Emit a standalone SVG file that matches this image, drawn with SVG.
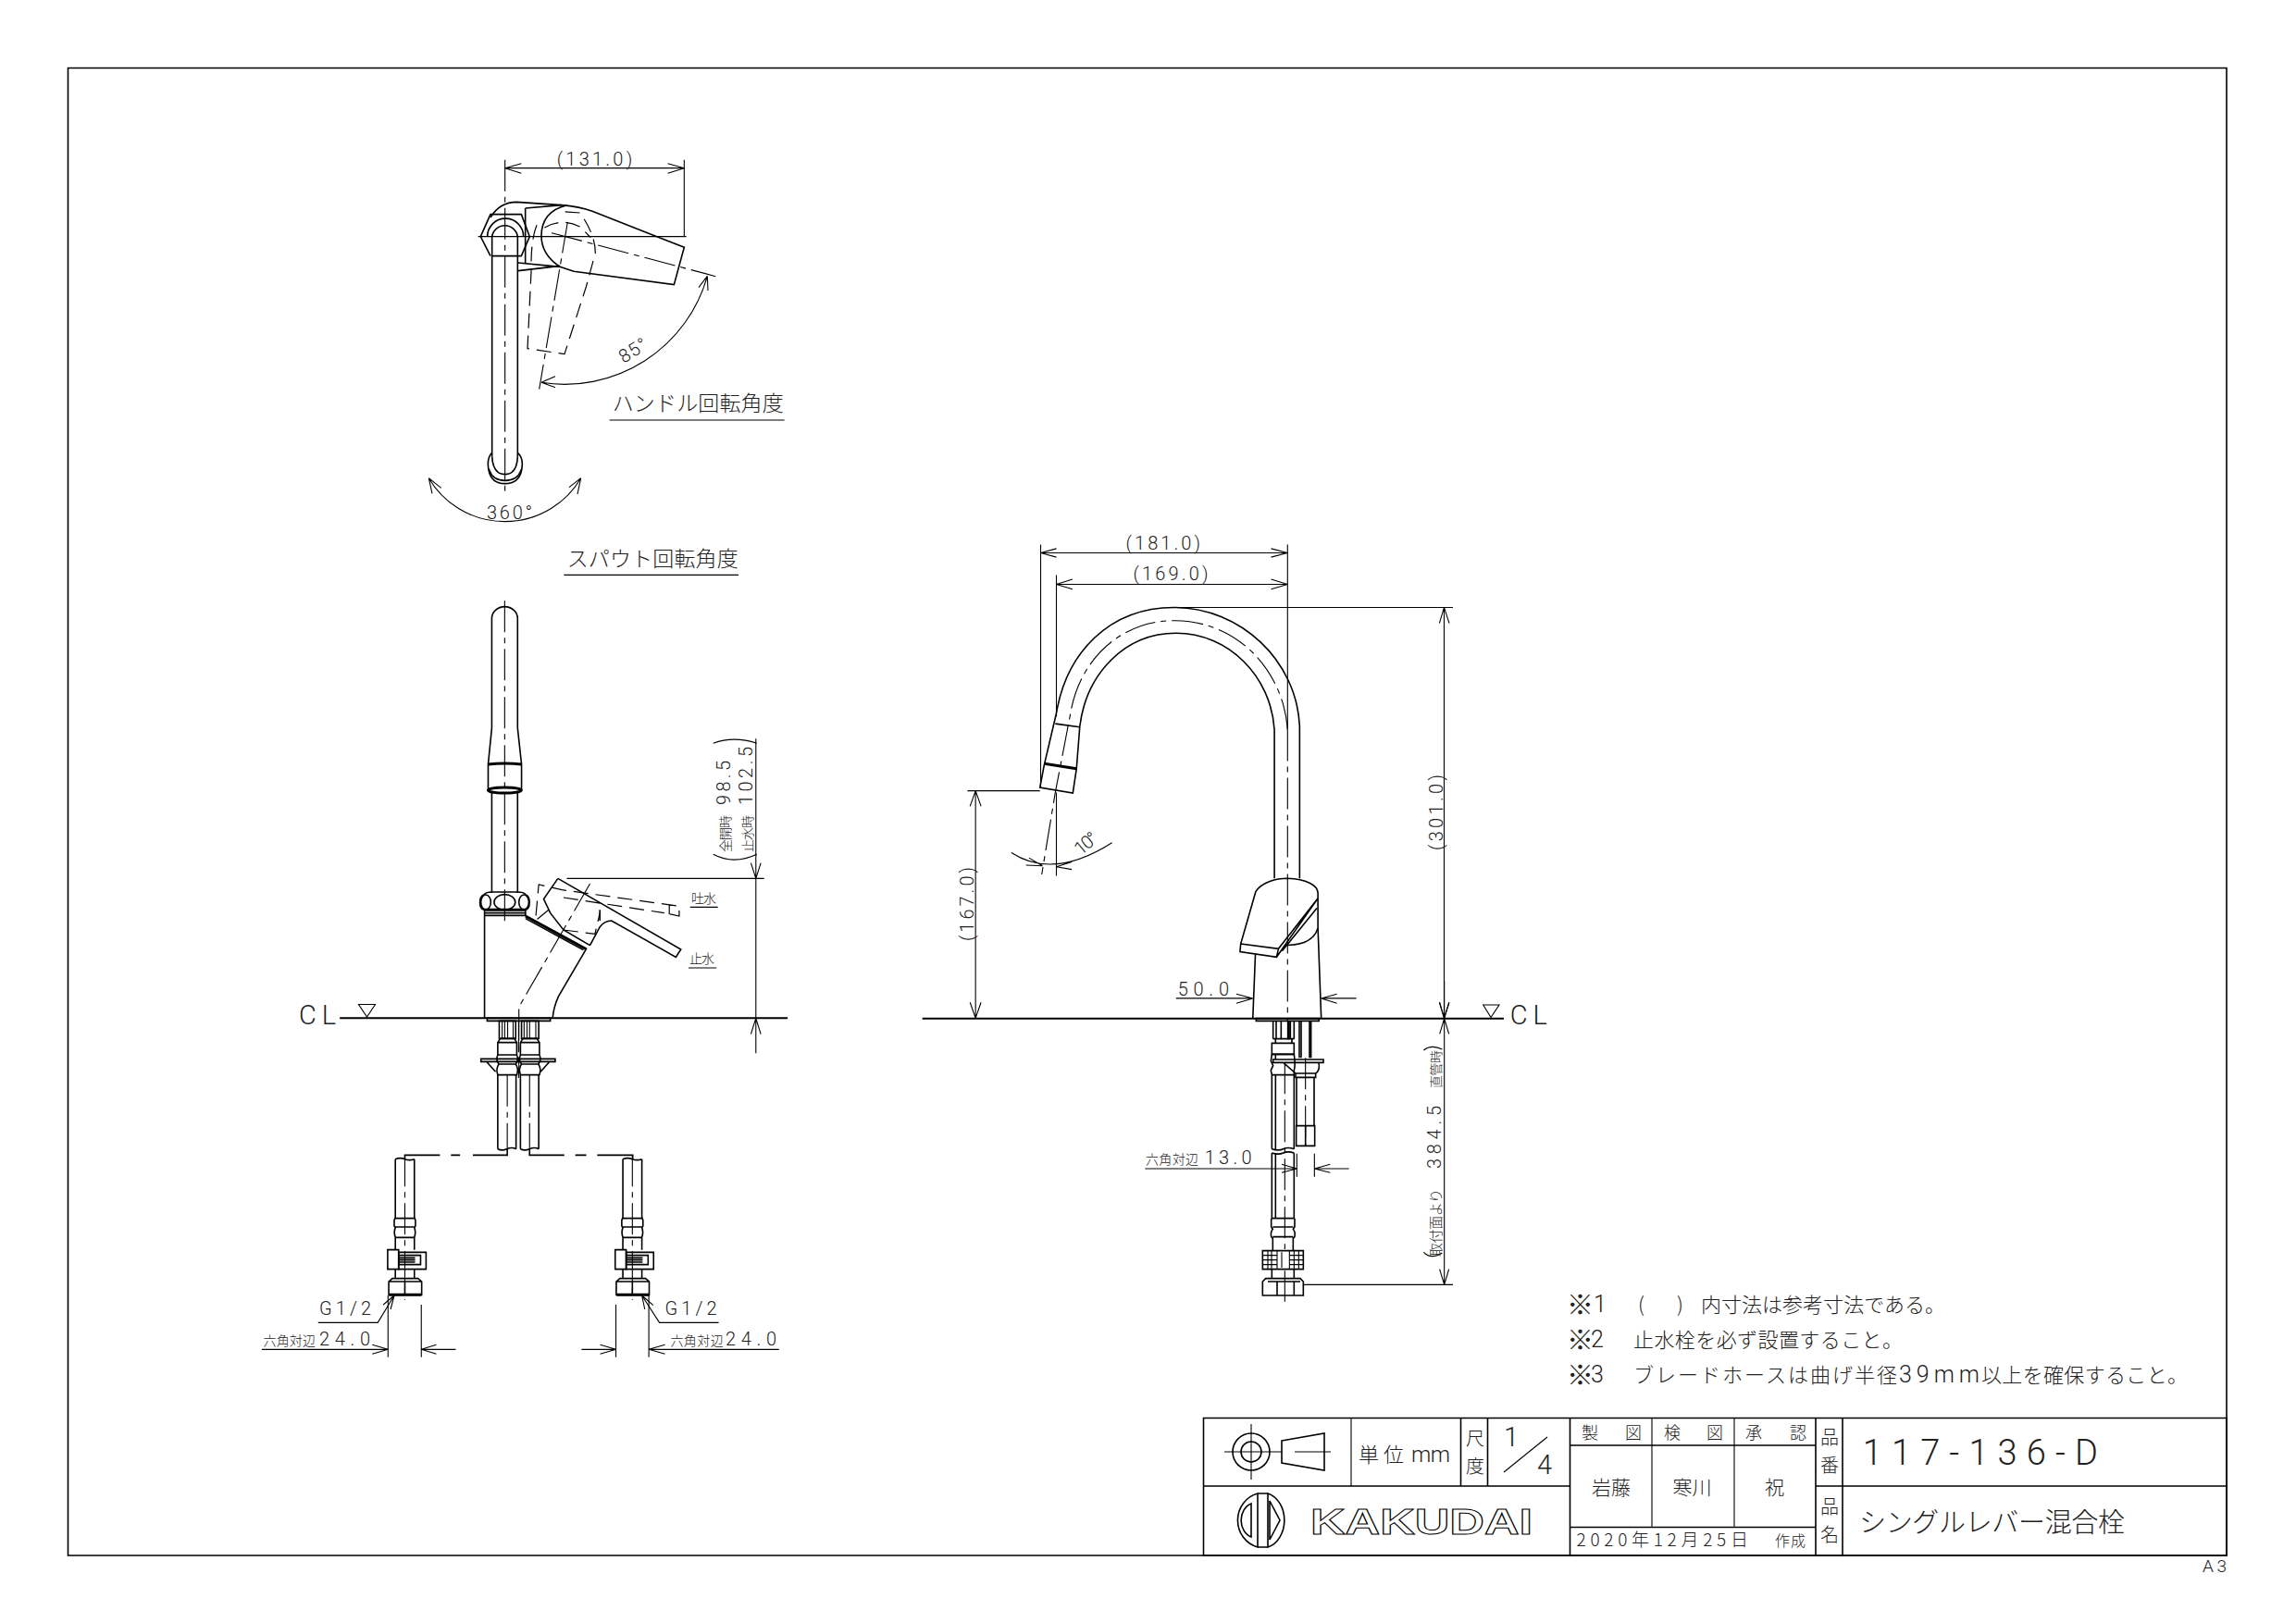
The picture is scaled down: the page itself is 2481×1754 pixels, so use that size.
<svg xmlns="http://www.w3.org/2000/svg" xmlns:xlink="http://www.w3.org/1999/xlink" width="2481" height="1754" viewBox="0 0 2481 1754">
<style>
path,line,rect,circle,ellipse,polyline,polygon{fill:none;stroke:#000;stroke-width:1.6;vector-effect:non-scaling-stroke}
.t{stroke-width:1.1}
.b{stroke-width:3}
.d{stroke-width:1.2;stroke-dasharray:16 8}
.c{stroke-width:1.1;stroke-dasharray:34 6 6 6}
text{font-family:Roboto,"Noto Sans CJK JP",sans-serif;font-weight:300;fill:#222;font-size:20px}
.j{font-family:"Noto Sans CJK JP",sans-serif;font-weight:300}
.n{font-size:22px}
.s{font-size:14px}
</style>
<defs>
<g id="supply">
<path d="M423,458V650M475,458V650M423,458Q436,452 449,458T475,458"/>
<path class="c" d="M449,445V915"/>
<path d="M423,650L420,655V675L423,680Q418,695 423,712V752M475,650L478,655V675L475,680Q480,695 475,712V752M420,650H478M421,678H477M422,712H476"/>
<rect x="402" y="752" width="30" height="63"/>
<rect x="432" y="760" width="75" height="55"/>
<path d="M432,770H492V800H432M432,778H477M432,785H477M432,792H477"/>
<path d="M423,815V845M475,815V845"/>
<path d="M415,845H485L495,855V898H405V855ZM405,855H495M449,855V898"/>
<path class="b" d="M406,898H494"/>
</g>
<g id="conn">
<path d="M703,425V185M753,425V185M703,425Q715,432 728,425T753,425"/>
<path d="M710,67H748L755,80V120M710,67L703,80V120M703,80H755M703,120H755"/>
<path d="M703,120Q697,137 706,150Q697,165 703,185H755Q761,165 752,150Q761,137 755,120M703,150H755"/>
</g>
</defs>

<g id="frame">
<rect x="73.5" y="73.5" width="2332.5" height="1607.5"/>
</g>

<g id="top-view">
<g transform="translate(420,140) scale(.33333)">
<path class="t" d="M377,125H958M377,125L430,110M377,125L430,142M958,125L905,110M958,125L905,142M958,98V348M290,347H965"/>
<path class="c" d="M377,98V1172"/>
<path d="M298,347L330,275H430L457,347L430,410H335M330,410L298,347"/>
<path d="M320,347A58,58 0 0 1 437,347"/>
<path d="M335,347A42,42 0 0 1 418,347V1060M335,347V1060"/>
<path d="M335,1048Q322,1060 322,1085Q324,1148 377,1148Q431,1148 433,1085Q433,1060 418,1048"/>
<path d="M335,1060Q338,1118 377,1118Q416,1118 418,1060M325,1100Q335,1138 377,1138Q420,1138 431,1100"/>
<path d="M330,285Q360,235 415,235L560,245Q620,250 660,265L958,382L925,503L600,460L555,445L420,432"/>
<path d="M420,458L555,442M443,255L560,245M443,255V432"/>
<path d="M578,245Q495,265 495,345Q495,405 555,445"/>
<path class="d" d="M480,310Q460,360 462,460L450,710L570,728L640,510L670,400Q670,340 620,270L550,265"/>
<path class="d" d="M505,318Q560,285 620,315L655,350"/>
<path class="c" d="M528,335L1060,476M580,300L488,842"/>
<path class="t" d="M1033,475A480,480 0 0 1 495,820M1033,475L1005,512M1033,475L1035,522M495,820L540,800M495,820L540,836"/>
<path class="t" d="M130,1130A286,286 0 0 0 623,1130M130,1130L170,1162M130,1130L141,1180M623,1130L585,1160M623,1130L612,1182"/>
<path class="t" d="M716,942H1283M568,1444H1134"/>
</g>
<text x="601.7" y="179" textLength="81.5">(131.0)</text>
<text x="526" y="561" textLength="49">360°</text>
<text transform="translate(674,393) rotate(-32)" textLength="32">85°</text>
<text class="j" x="661.7" y="444" style="font-size:23px" textLength="185">ハンドル回転角度</text>
<text class="j" x="612.7" y="612" style="font-size:23px" textLength="185">スパウト回転角度</text>
</g>

<g id="front-view">
<g transform="translate(300,640) scale(.35714,.33333)">
<path d="M648,440V85A39,38 0 0 1 726,85V440L738,558V645M648,440L637,558V645M648,650V975M726,650V975"/>
<path class="b" d="M637,558Q687,552 738,558"/>
<ellipse class="b" cx="687" cy="642" rx="50" ry="9"/>
<path class="c" d="M687,28V1075"/>
<path d="M625,980Q612,985 612,1005Q612,1028 625,1030M750,980Q762,985 762,1005Q762,1028 750,1030M625,980Q630,972 650,972H725Q745,972 750,980"/>
<ellipse cx="630" cy="1005" rx="15" ry="24"/>
<ellipse cx="687" cy="1005" rx="32" ry="25"/>
<ellipse cx="745" cy="1005" rx="15" ry="24"/>
<path class="b" d="M625,1030H750"/>
<path d="M626,1030V1381M626,1040H750M626,1048H750M750,1030V1050"/>
<path class="b" d="M750,1050L935,1158"/>
<path d="M750,1058L925,1160M932,1160L850,1310Q835,1345 832,1381"/>
<path d="M848,928L1220,1158L1205,1183L1010,1065Q990,1065 975,1085L945,1145M848,928L805,995L825,1040L865,1095L945,1145M975,1030V1065"/>
<path class="d" d="M820,1030L780,1065L790,948L860,965L1215,1018V1050L1170,1040M865,1095L960,1108L975,1040M865,990L1170,1040M1185,1015V1045"/>
<path class="c" d="M945,945L730,1345V1560"/>
<path style="stroke-width:2" d="M188,1381H1543"/>
<rect x="634" y="1381" width="191" height="9"/>
<path class="t" d="M1447,475V1495M1447,928L1432,878M1447,928L1462,878M1447,1381L1432,1433M1447,1381L1462,1433M875,928H1472"/>
<path class="t" d="M1318,490Q1380,465 1450,490M1318,850Q1380,885 1450,850"/>
<path class="t" d="M1248,1021H1332M1243,1218H1328"/>
</g>
<polygon class="t" points="387.5,1085.5 405.5,1085.5 396.5,1099"/>
<text x="323" y="1107" style="font-size:29px" textLength="40">CL</text>
<text class="j s" x="747" y="976" textLength="27">吐水</text>
<text class="j s" x="745" y="1041" textLength="27">止水</text>
<text class="j s" transform="translate(789,921) rotate(-90)" textLength="40">全開時</text>
<text transform="translate(789,870) rotate(-90)" textLength="48">98.5</text>
<text class="j s" transform="translate(813,921) rotate(-90)" textLength="40">止水時</text>
<text transform="translate(813,870) rotate(-90)" textLength="63">102.5</text>
<g transform="translate(260,1100) scale(.39526,.33333)">
<rect x="707" y="10" width="45" height="57"/>
<rect x="768" y="10" width="47" height="57"/>
<path class="t" d="M715,10V67M722,10V67M730,10V67M745,10V67M775,10V67M783,10V67M790,10V67M807,10V67"/>
<use href="#conn" xlink:href="#conn"/>
<use href="#conn" xlink:href="#conn" transform="translate(62,0)"/>
<path d="M657,133H860V142H657ZM672,142L697,175M845,142L820,175"/>
<path class="c" d="M729,185V425M790,185V425M760,10V195"/>
<path d="M729,425V445H635M600,445H575M545,445H449V458"/>
<path d="M790,425V445H885M915,445H945M975,445H1072V458"/>
<use href="#supply" xlink:href="#supply"/>
<use href="#supply" xlink:href="#supply" transform="translate(622,0)"/>
<path class="t" d="M212,988H375L420,900M420,900L390,930M420,900L410,945"/>
<path class="t" d="M1307,988H1145L1097,900M1097,900L1128,932M1097,900L1105,945"/>
<path class="t" d="M403,900V1100M494,930V1100M58,1075H403M403,1075L360,1060M403,1075L360,1090M494,1075H588M494,1075L535,1060M494,1075L535,1090"/>
<path class="t" d="M1026,930V1100M1116,900V1100M932,1075H1026M1026,1075L983,1060M1026,1075L983,1090M1116,1075H1472M1116,1075L1160,1060M1116,1075L1160,1090"/>
</g>
<text x="345" y="1421" textLength="56">G1/2</text>
<text x="718.5" y="1421" textLength="56">G1/2</text>
<text class="j s" x="284.5" y="1454" textLength="56.5">六角対辺</text>
<text x="345" y="1454" textLength="55">24.0</text>
<text class="j s" x="724.4" y="1454" textLength="57.3">六角対辺</text>
<text x="784" y="1454" textLength="55">24.0</text>
</g>

<g id="side-view">
<g transform="translate(1000,560) scale(.39526,.35714)">
<path class="t" d="M315,105H990M315,105L358,92M315,105L358,118M990,105L945,92M990,105L945,118M315,80V815"/>
<path class="t" d="M358,200H990M358,200L402,185M358,200L402,215M990,200L945,185M990,200L945,215M358,172V600"/>
<path class="t" d="M990,80V640M358,830V1082"/>
<path class="c" d="M990,640V1522"/>
<path d="M1023,1090V630C1015,430 860,270 680,270C500,270 385,410 358,590"/>
<path d="M954,1090V640C945,480 830,348 685,348C545,348 440,470 422,630"/>
<path class="c" d="M990,640C980,470 860,310 680,310C540,310 420,420 395,600L355,830L318,1078"/>
<path d="M358,590L325,745L313,815L403,832L413,758L422,630M355,622L422,632"/>
<path class="b" d="M325,743L413,758"/>
<path class="t" d="M115,825H313M137,825V1513M137,825L122,872M137,825L152,872M137,1513L122,1465M137,1513L152,1465"/>
<path class="t" d="M235,1012Q350,1095 510,982M320,1052L283,1028M320,1052L275,1050M358,1055L400,1040M358,1055L400,1063"/>
<path class="t" d="M680,270H1442M1418,270V1513M1418,270L1405,318M1418,270L1432,318M1418,1513L1405,1465M1418,1513L1432,1465"/>
<path d="M903,1130C920,1100 960,1090 990,1090C1040,1092 1073,1110 1073,1135V1240Q1060,1290 990,1292M903,1130L862,1288L860,1312L960,1328L1073,1150M862,1288L965,1303L1073,1150M965,1303L960,1328M975,1310L1070,1180"/>
<path d="M902,1320L895,1513M1073,1240L1082,1513"/>
<path class="t" d="M685,1453H895M895,1453L850,1440M895,1453L850,1468M1082,1453H1178M1082,1453L1125,1440M1082,1453L1125,1468"/>
</g>
<g transform="translate(1230,1060) scale(.33333)">
<path style="stroke-width:2" d="M-700,122H1185"/>
<rect x="382" y="122" width="204" height="8"/>
<path d="M437,130V188M505,130V188M447,130V188M463,130V188M493,130V188M522,130V250M528,130V250M555,130V250M560,130V250M437,188H505"/>
<path class="b" d="M487,130V190"/>
<path d="M445,188V202M498,188V202"/>
<rect x="433" y="202" width="72" height="36"/>
<path d="M433,238L430,260L437,275L430,290L433,305V545M505,238Q510,275 505,290V545M445,305V545M433,238H505M433,305H505M445,238V255M433,545Q455,552 470,545T505,545"/>
<path d="M437,255H600V265H437ZM470,265L510,300H575Q590,290 585,265M510,300V313H575V300"/>
<path d="M513,313V470M570,313V470"/>
<path class="c" d="M542,250V535"/>
<path d="M512,470H572V535H512ZM542,470V535"/>
<path class="c" d="M475,265V870"/>
<path d="M433,558Q455,565 470,558T505,558M433,558V770M505,558V770M445,558V770"/>
<path d="M433,770H505M431,770V798L436,805Q428,815 431,830L436,835V875M507,770V798L502,805Q510,815 507,830L502,835V875M436,798H502M436,830H502"/>
<rect x="403" y="875" width="132" height="60"/>
<path class="t" d="M403,890H450M403,905H450M403,920H450M490,890H535M490,905H535M490,920H535M420,875V935M432,875V935M450,875V935M465,880V930M490,875V935M505,875V935M520,875V935"/>
<path d="M433,935V965M505,935V965"/>
<path d="M413,965H525L535,975V1020H403V975ZM420,975H525M450,975V1020M505,975V1020"/>
<path class="c" d="M475,940V1040"/>
<path class="t" d="M514,560V635M571,560V635M22,609H514M514,609L465,595M514,609L465,622M571,609H683M571,609L622,595M571,609L622,622"/>
<path class="t" d="M992,0V985M992,122L977,70M992,122L1007,70M992,122L977,172M992,122L1007,172M992,985L977,935M992,985L1007,935M535,985H1020"/>
<path class="t" d="M925,225Q950,205 985,222M925,880Q950,905 985,882"/>
</g>
<polygon class="t" points="1602.7,1086 1620,1086 1611,1099.5"/>
<text x="1631.7" y="1106.7" style="font-size:29px" textLength="40">CL</text>
<text x="1216.6" y="594" textLength="80.4">(181.0)</text>
<text x="1224.5" y="627" textLength="81">(169.0)</text>
<text transform="translate(1052,1017) rotate(-90)" textLength="80">(167.0)</text>
<text transform="translate(1559,919) rotate(-90)" textLength="82">(301.0)</text>
<text transform="translate(1168,925) rotate(-40)" textLength="26">10°</text>
<text x="1272.7" y="1076" textLength="55.3">50.0</text>
<text class="j s" x="1238" y="1258" textLength="57">六角対辺</text>
<text x="1301.7" y="1258" textLength="51">13.0</text>
<text class="j" transform="translate(1557,1358) rotate(-90)" style="font-size:15px" textLength="73">取付面より</text>
<text transform="translate(1557,1263) rotate(-90)" textLength="68">384.5</text>
<text class="j" transform="translate(1557,1176) rotate(-90)" style="font-size:14px" textLength="41">直管時</text>
</g>

<g id="notes">
<text class="j" style="font-size:29px" x="1693" y="1421">※</text>
<text style="font-size:25px" x="1722" y="1418">1</text>
<text class="j n" x="1770" y="1418">(</text>
<text class="j n" x="1812" y="1418">)</text>
<text class="j n" x="1838" y="1418" textLength="264">内寸法は参考寸法である。</text>
<text class="j" style="font-size:29px" x="1693" y="1459">※</text>
<text style="font-size:25px" x="1719" y="1456">2</text>
<text class="j n" x="1765" y="1456" textLength="291">止水栓を必ず設置すること。</text>
<text class="j" style="font-size:29px" x="1693" y="1497">※</text>
<text style="font-size:25px" x="1719" y="1494">3</text>
<text class="j n" x="1765" y="1494" textLength="285">ブレードホースは曲げ半径</text>
<text style="font-size:25px" x="2052" y="1494" textLength="87">39mm</text>
<text class="j n" x="2141" y="1494" textLength="223">以上を確保すること。</text>
</g>

<g id="title-block">
<rect x="1300.5" y="1532.5" width="1105.5" height="148.5"/>
<path d="M1300,1606H1696M1962,1606H2406M1578.5,1533V1606M1607.5,1533V1606M1696.5,1533V1681M1962,1533V1681M1991,1533V1681M1696,1562H1962M1696,1650.5H1962"/>
<path class="t" d="M1460,1533V1606M1785,1562V1650M1874,1533V1650M1785,1533V1562"/>
<g id="projection-symbol">
<circle cx="1352" cy="1569" r="20"/>
<circle cx="1352" cy="1569" r="11"/>
<path class="t" d="M1352,1539V1599M1323,1569H1380M1378,1569H1385M1399,1569H1438"/>
<path d="M1385,1557L1431,1549V1589L1385,1581Z"/>
</g>
<text class="j" x="1468" y="1580" style="font-size:22px" textLength="49">単位</text>
<text style="font-size:24px" x="1525" y="1580" textLength="42">mm</text>
<text class="j" x="1584" y="1562" style="font-size:20px">尺</text>
<text class="j" x="1584" y="1592" style="font-size:20px">度</text>
<text x="1625" y="1563" style="font-size:29px">1</text>
<path class="t" d="M1625,1591L1672,1553"/>
<text x="1661" y="1593" style="font-size:29px">4</text>
<text class="j" x="1709" y="1555" style="font-size:18px">製</text>
<text class="j" x="1756" y="1555" style="font-size:18px">図</text>
<text class="j" x="1798" y="1555" style="font-size:18px">検</text>
<text class="j" x="1844" y="1555" style="font-size:18px">図</text>
<text class="j" x="1886" y="1555" style="font-size:18px">承</text>
<text class="j" x="1934" y="1555" style="font-size:18px">認</text>
<text class="j" x="1720" y="1615" style="font-size:21px" textLength="42">岩藤</text>
<text class="j" x="1807.5" y="1615" style="font-size:21px" textLength="42">寒川</text>
<text class="j" x="1907" y="1615" style="font-size:21px">祝</text>
<text class="j" x="1703.5" y="1671" style="font-size:19px" textLength="185.5">2020年12月25日</text>
<text class="j" x="1918" y="1671" style="font-size:16px" textLength="33">作成</text>
<text class="j" x="1967" y="1561" style="font-size:20px">品</text>
<text class="j" x="1967" y="1591" style="font-size:20px">番</text>
<text class="j" x="1967" y="1636" style="font-size:20px">品</text>
<text class="j" x="1967" y="1666" style="font-size:20px">名</text>
<text x="2012.7" y="1583" style="font-size:38px" textLength="254.3">117-136-D</text>
<text class="j" x="2009" y="1656" style="font-size:29px" textLength="287">シングルレバー混合栓</text>
<g id="logo">
<path d="M1359,1614A29,30 0 0 0 1359,1672ZM1352,1625A16,19 0 0 0 1352,1661Z"/>
<path d="M1370,1614A24,30 0 0 1 1370,1672V1643ZM1370,1614V1672M1372,1622L1383,1643L1372,1664Z"/>
<path d="M1359,1614H1370M1359,1672H1370"/>
</g>
<text x="1416" y="1658" style="font-family:'Liberation Sans',sans-serif;font-size:39px;font-weight:700;fill:#fff;stroke:#000;stroke-width:1" textLength="240" lengthAdjust="spacingAndGlyphs">KAKUDAI</text>
</g>
<text id="sheet-size" x="2380" y="1699" style="font-size:19px" textLength="26">A3</text>
</svg>
